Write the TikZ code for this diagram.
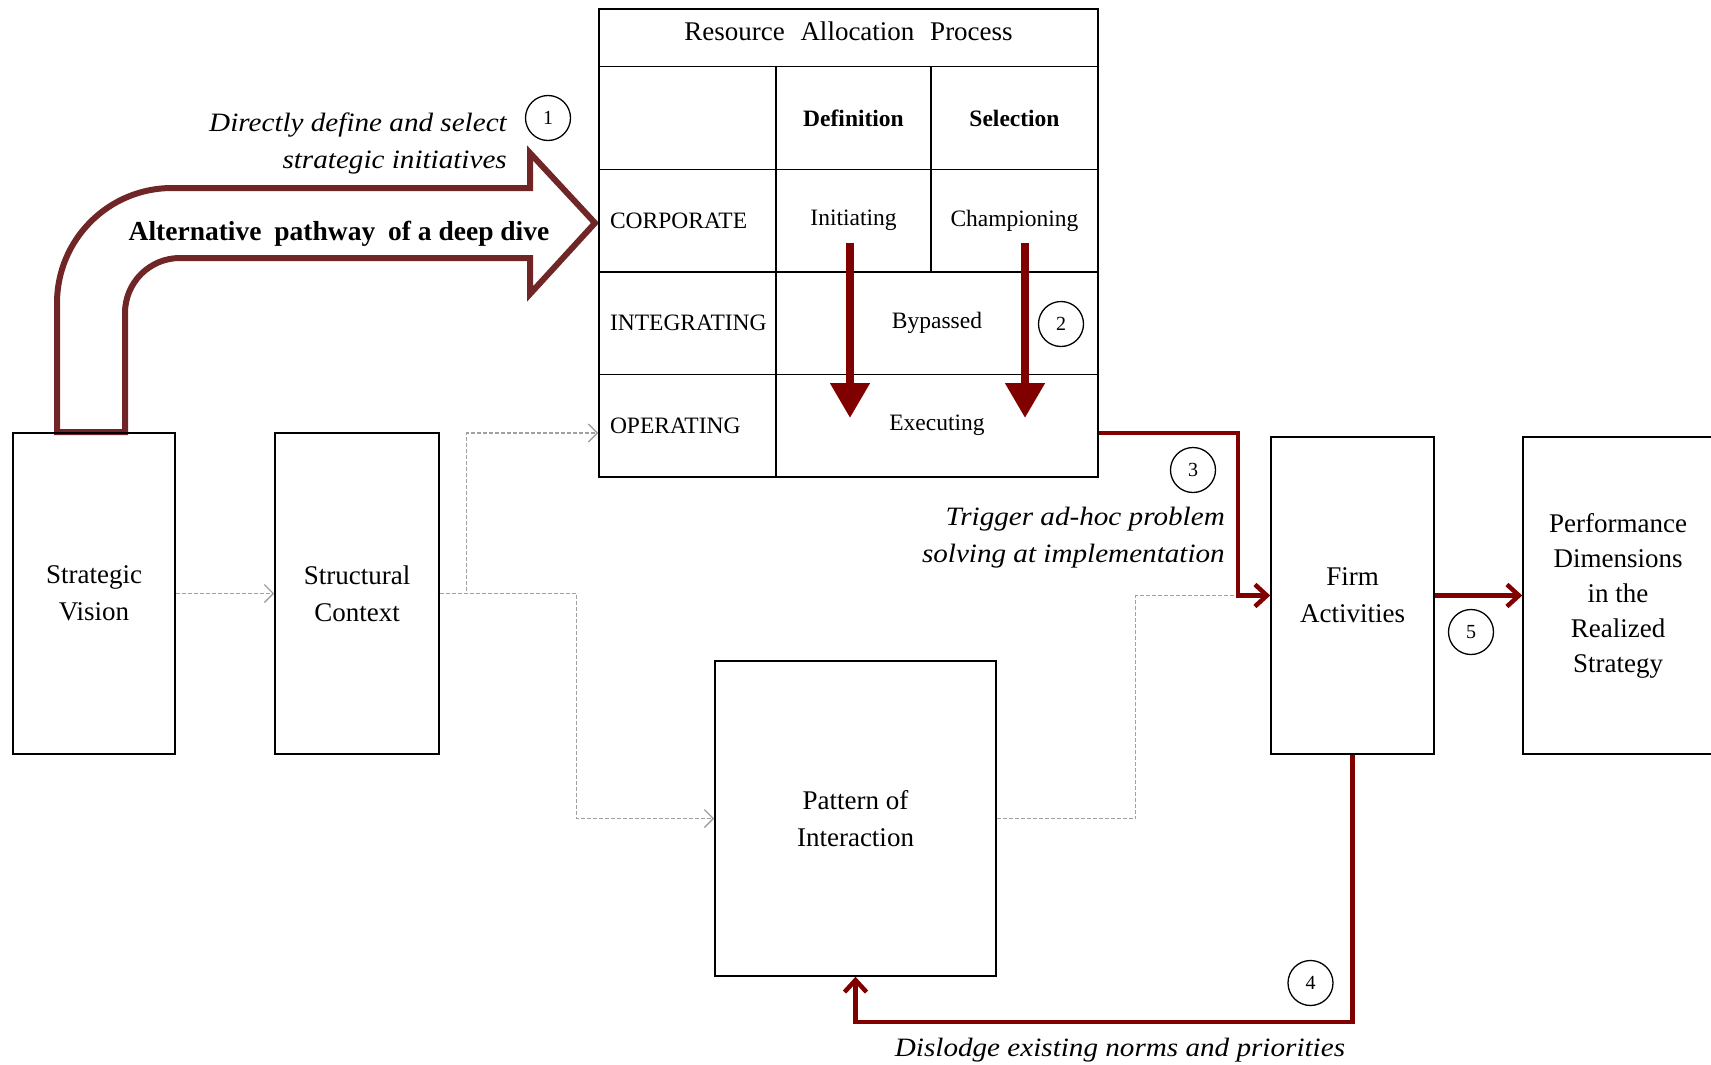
\documentclass[tikz,border=0pt]{standalone}
\usepackage{fontspec}
\setmainfont{Liberation Serif}
\newfontfamily\lblfont{Liberation Serif}[FakeStretch=1.1]
\usetikzlibrary{arrows.meta}
\definecolor{maroonred}{RGB}{128,0,0}
\definecolor{arrowbrown}{RGB}{112,38,38}
\definecolor{dashgray}{RGB}{160,160,160}
\begin{document}
\begin{tikzpicture}[x=1pt,y=-1pt,
  box/.style={draw=black, line width=1.5pt, inner sep=0pt, align=center, font=\fontsize{27}{37}\selectfont},
  cell/.style={draw=black, line width=1.5pt, inner sep=0pt, align=center, font=\fontsize{23.5}{28}\selectfont},
  rowlabel/.style={cell, inner xsep=11pt, text width=155pt, align=left, minimum height=102.5pt},
  numc/.style={circle, draw=black, line width=1.3pt, minimum size=45pt, inner sep=0pt, font=\fontsize{20}{20}\selectfont},
  lbl/.style={inner sep=0pt, font=\lblfont\itshape\fontsize{26.5}{37}\selectfont},
  redconn/.style={maroonred, line width=4.5pt, -{Straight Barb[length=12pt,width=22pt]}},
  downarrow/.style={maroonred, line width=8pt, -{Triangle[length=35pt,width=38pt]}},
  grayconn/.style={dashgray, line width=1.3pt, dash pattern=on 4pt off 2pt, -{Straight Barb[length=9pt,width=18pt]}},
  grayline/.style={dashgray, line width=1.3pt, dash pattern=on 4pt off 2pt}
]
\useasboundingbox (0,0) rectangle (1711,1065);

% big curved arrow
\draw[arrowbrown, line width=6pt, fill=white, line join=miter]
  (57,432) -- (57,303) .. controls (57,239.5) and (108.5,188) .. (172,188)
  -- (530,188) -- (530,153) -- (595,223) -- (530,294) -- (530,258) -- (180,258)
  .. controls (149.6,258) and (125,282.6) .. (125,313) -- (125,432) -- cycle;
\node[font=\bfseries\fontsize{27.5}{30}\selectfont, anchor=base] (alt) at (339,240)
  {Alternative\hspace{6pt} pathway\hspace{6pt} of a deep dive};

% boxes
\node[box, minimum width=162pt, minimum height=321pt] (sv) at (94,593.5) {Strategic\\Vision};
\node[box, minimum width=164pt, minimum height=321pt] (sc) at (357,593.5) {Structural\\Context};
\node[box, minimum width=281pt, minimum height=315pt] (pat) at (855.5,818.5) {Pattern of\\Interaction};
\node[box, minimum width=163pt, minimum height=317pt] (firm) at (1352.5,595.5) {Firm\\Activities};
\node[box, minimum width=190pt, minimum height=317pt, font=\fontsize{27}{35}\selectfont] (perf) at (1618,595.5)
  {Performance\\Dimensions\\in the\\Realized\\Strategy};

% table
\node[cell, minimum width=499pt, minimum height=57.5pt] (title) at (848.5,37.75) {};
\node[font=\fontsize{27}{30}\selectfont] (ttl) at (848.5,31.5) {Resource\hspace{9pt} Allocation\hspace{9pt} Process};
\node[cell, minimum width=177pt, minimum height=103pt] (hdr) at (687.5,118) {};
\node[cell, minimum width=155pt, minimum height=103pt] (def) at (853.5,118) {\textbf{Definition}};
\node[cell, minimum width=167pt, minimum height=103pt] (sel) at (1014.5,118) {\textbf{Selection}};
\node[rowlabel] (corp) at (687.5,220.75) {CORPORATE};
\node[cell, minimum width=155pt, minimum height=102.5pt] (init) at (853.5,220.75) {Initiating};
\node[cell, minimum width=167pt, minimum height=102.5pt] (champ) at (1014.5,220.75) {Championing};
\node[rowlabel] (integ) at (687.5,323.25) {INTEGRATING};
\node[cell, minimum width=322pt, minimum height=102.5pt] (byp) at (937,323.25) {Bypassed};
\node[rowlabel] (oper) at (687.5,425.75) {OPERATING};
\node[cell, minimum width=322pt, minimum height=102.5pt] (exe) at (937,425.75) {Executing};

% red arrows in table
\coordinate (a1s) at (850,243);
\coordinate (a1e) at (850,418);
\coordinate (a2s) at (1025,243);
\coordinate (a2e) at (1025,418);
\draw[downarrow] (a1s) -- (a1e);
\draw[downarrow] (a2s) -- (a2e);

% gray dashed connectors
\draw[grayconn] (sv.east) -- (sc.west);
\draw[grayconn] (sc.east) -- ++(27,0) |- ([yshift=-7.25pt]oper.west);
\draw[grayconn] (sc.east) -- ++(137,0) |- (pat.west);
\draw[grayline] (pat.east) -- ++(139,0) |- (firm.west);

% red connectors
\draw[redconn] ([yshift=-7.25pt]exe.east) -- ++(139,0) |- (firm.west);
\draw[redconn] (firm.east) -- (perf.west);
\draw[redconn] (firm.south) -- ++(0,267) -| (pat.south);

% labels
\node[lbl, anchor=east, align=right] (l1) at (507,143) {Directly define and select\\strategic initiatives};
\node[lbl, anchor=east, align=right] (l3) at (1225,538) {Trigger ad-hoc problem\\solving at implementation};
\node[lbl] (l4) at (1120,1050) {Dislodge existing norms and priorities};

% numbers
\node[numc] (n1) at (548,118) {1};
\node[numc] (n2) at (1061,324) {2};
\node[numc] (n3) at (1193,470) {3};
\node[numc] (n4) at (1310.5,983) {4};
\node[numc] (n5) at (1471,632) {5};
\end{tikzpicture}
\end{document}
